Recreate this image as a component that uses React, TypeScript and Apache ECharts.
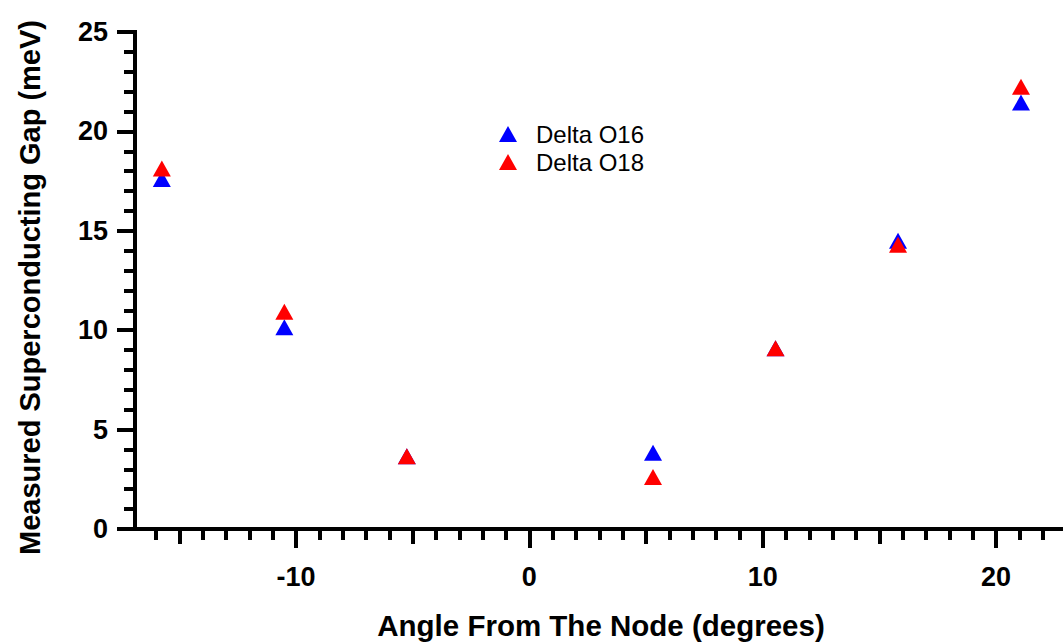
import React, { useEffect, useRef } from "react";
import * as echarts from "echarts";

const angles = [-15.75, -10.5, -5.25, 5.3, 10.55, 15.8, 21.07];
const deltaO16 = [17.6, 10.15, 3.66, 3.83, 9.09, 14.5, 21.45];
const deltaO18 = [18.13, 10.93, 3.66, 2.61, 9.09, 14.3, 22.25];
const seriesNames = ["Delta O16", "Delta O18"];
const seriesColors = ["#0000ff", "#ff0000"];

const xMajorTicks = [-10, 0, 10, 20];
const xMidTicks = [-15, -5, 5, 15];
const xMinorTicks = [-16, -14, -13, -12, -11, -9, -8, -7, -6, -4, -3, -2, -1, 1, 2, 3, 4, 6, 7, 8, 9, 11, 12, 13, 14, 16, 17, 18, 19, 21, 22];
const xTitle = "Angle From The Node (degrees)";
const yTitle = "Measured Superconducting Gap (meV)";

const FONT = "'Liberation Sans', Arial, Helvetica, sans-serif";

export default function App() {
  const ref = useRef<HTMLDivElement>(null);
  useEffect(() => {
    if (!ref.current) return;
    const chart = echarts.init(ref.current, undefined, { renderer: "svg" });
    const xMin = -16.9;
    const xMax = 22.87;
    const baseX = {
      type: "value",
      min: xMin,
      max: xMax,
      position: "bottom",
      splitLine: { show: false },
    };
    chart.setOption({
      animation: false,
      backgroundColor: "#ffffff",
      grid: { left: 135, right: 0, top: 32, bottom: 643 - 529 },
      xAxis: [
        {
          ...baseX,
          axisLine: { show: true, onZero: false, lineStyle: { color: "#000", width: 4, cap: "square" } },
          axisTick: { show: true, customValues: xMajorTicks, length: 19, lineStyle: { color: "#000", width: 4 } },
          axisLabel: {
            show: true,
            customValues: xMajorTicks,
            margin: 34,
            color: "#000",
            fontSize: 27,
            fontWeight: "bold",
            fontFamily: FONT,
          },
        },
        {
          ...baseX,
          axisLine: { show: false, onZero: false },
          axisTick: { show: true, customValues: xMidTicks, length: 15, lineStyle: { color: "#000", width: 4 } },
          axisLabel: { show: false },
        },
        {
          ...baseX,
          axisLine: { show: false, onZero: false },
          axisTick: { show: true, customValues: xMinorTicks, length: 11, lineStyle: { color: "#000", width: 4 } },
          axisLabel: { show: false },
        },
      ],
      yAxis: {
        type: "value",
        min: 0,
        max: 25,
        interval: 5,
        splitLine: { show: false },
        axisLine: { show: true, onZero: false, lineStyle: { color: "#000", width: 4, cap: "square" } },
        axisTick: { show: true, length: 18, lineStyle: { color: "#000", width: 4 } },
        minorTick: { show: true, splitNumber: 5, length: 11, lineStyle: { color: "#000", width: 4 } },
        axisLabel: {
          margin: 27,
          color: "#000",
          fontSize: 27,
          fontWeight: "bold",
          fontFamily: FONT,
        },
      },
      legend: {
        orient: "vertical",
        left: 499,
        top: 122,
        padding: 0,
        itemWidth: 18,
        itemHeight: 16,
        itemGap: 4,
        textStyle: { fontSize: 24, fontFamily: FONT, color: "#000", padding: [0, 0, 0, 14] },
        data: seriesNames.map((n) => ({ name: n, icon: "triangle" })),
      },
      graphic: [
        {
          type: "text",
          x: 601,
          y: 625,
          style: {
            text: xTitle,
            fill: "#000",
            font: `bold 29.5px ${FONT}`,
            align: "center",
            verticalAlign: "middle",
          },
        },
        {
          type: "text",
          x: 30,
          y: 287.5,
          rotation: Math.PI / 2,
          style: {
            text: yTitle,
            fill: "#000",
            font: `bold 29px ${FONT}`,
            align: "center",
            verticalAlign: "middle",
          },
        },
      ],
      series: [deltaO16, deltaO18].map((vals, i) => ({
        name: seriesNames[i],
        type: "scatter",
        xAxisIndex: 0,
        symbol: "triangle",
        symbolSize: [18, 16],
        itemStyle: { color: seriesColors[i], opacity: 1 },
        emphasis: { disabled: true },
        data: angles.map((a, j) => [a, vals[j]]),
      })),
    });
    return () => chart.dispose();
  }, []);
  return (
    <div
      ref={ref}
      style={{ position: "absolute", left: 0, top: 0, width: 1063, height: 643 }}
    />
  );
}
